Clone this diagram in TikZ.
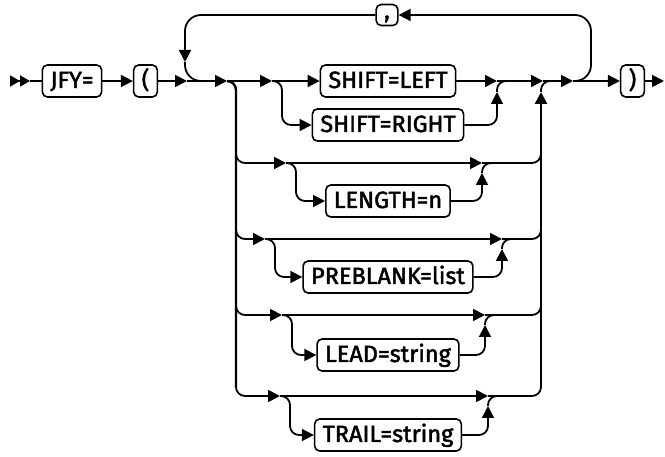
\documentclass[tikz,border=0pt]{standalone}
\usepackage{fontspec}
\setmainfont{Fira Sans}[FakeBold=2]
\usetikzlibrary{arrows.meta}
\tikzset{
  kw/.style={draw, rounded corners=5pt, line width=1.6pt, inner xsep=8pt,
    inner ysep=6pt, text height=17pt, text depth=3pt,
    font=\fontsize{23.5}{27}\selectfont},
  rail/.style={line width=1.8pt, rounded corners=9pt},
  trunk/.style={line width=2.4pt},
  tip/.style={-{Triangle[length=12pt,width=12pt]}},
}
\newcommand{\railopt}[6]{%
  % #1 row y, #2 tip x on the bypass, #3 box y, #4 merge x, #5 node, #6 keyword
  \node[kw] (#5) at (388,#3) {#6};
  \draw[rail, tip] (236,#1-9) -- (236,#1) -- (#2,#1);
  \draw[rail, tip] (#2,#1) -- (#4,#1);
  \draw[rail] (#4,#1) -- (541,#1) -- (541,#1-9);
  % down into the keyword, then back up to the bypass
  \draw[rail, tip] (#2,#1) -- (#2+10,#1) -- (#2+10,#3) -- (#5.west);
  \draw[rail, tip] (#5.east) -- (#4,#3) -- (#4,#1+10);
  \draw[rail] (#4,#1+10) -- (#4,#1) -- (#4+9,#1);%
}

\begin{document}
\begin{tikzpicture}[x=1pt, y=-1pt]
\useasboundingbox (0,0) rectangle (665,457);

% fixed keywords on the main line
\node[kw] (jfy) at (72,81) {JFY=};
\node[kw] (lpar) at (145.5,81) {(};
\node[kw] (shl) at (388,81) {SHIFT=LEFT};
\node[kw] (shr) at (388,125) {SHIFT=RIGHT};
\node[kw] (rpar) at (632.5,81) {)};
\node[kw, inner ysep=4pt, text height=10pt] (comma) at (387,15) {,};

% entry
\draw[line width=1.8pt,
  -{Triangle[length=10pt,width=11pt]Triangle[length=10pt,width=11pt]}]
  (10,81) -- (30,81);
\draw[rail] (30,81) -- (jfy);
\draw[rail, tip] (jfy) -- (lpar);
\draw[rail, tip] (lpar) -- (187,81);
\draw[rail, tip] (187,81) -- (227,81);

% the two trunks that carry the lower options
\draw[rail, trunk] (227,81) -- (236,81) -- (236,387);
\draw[rail, trunk, tip] (541,387) -- (541,92);
\draw[rail] (541,92) -- (541,81) -- (550,81);

% SHIFT choice, sitting on the main line
\draw[rail, tip] (227,81) -- (272,81);
\draw[rail, tip] (272,81) -- (shl);
\draw[rail, tip] (272,81) -- (282,81) -- (282,125) -- (shr);
\draw[rail, tip] (shl) -- (497,81);
\draw[rail, tip] (shr) -- (497,125) -- (497,92);
\draw[rail] (497,92) -- (497,81) -- (506,81);
\draw[rail, tip] (497,81) -- (543,81);
\draw[rail, tip] (543,81) -- (573,81);

% optional keywords
\railopt{163}{286}{201}{482}{len}{LENGTH=n}
\railopt{239}{265}{277}{502}{pre}{PREBLANK=list}
\railopt{315}{282}{355}{485}{lead}{LEAD=string}
\railopt{396}{280}{435}{488}{trail}{TRAIL=string}

% repeat loop through the comma
\draw[rail, rounded corners=16pt, tip] (573,81) -- (591,81) -- (591,15) -- (comma);
\draw[rail, rounded corners=16pt, tip] (comma) -- (185,15) -- (185,62);
\draw[rail, rounded corners=16pt] (185,62) -- (185,81) -- (203,81);

% exit
\draw[rail, tip] (573,81) -- (rpar);
\draw[rail, tip] (rpar) -- (664,81);

\end{tikzpicture}
\end{document}
